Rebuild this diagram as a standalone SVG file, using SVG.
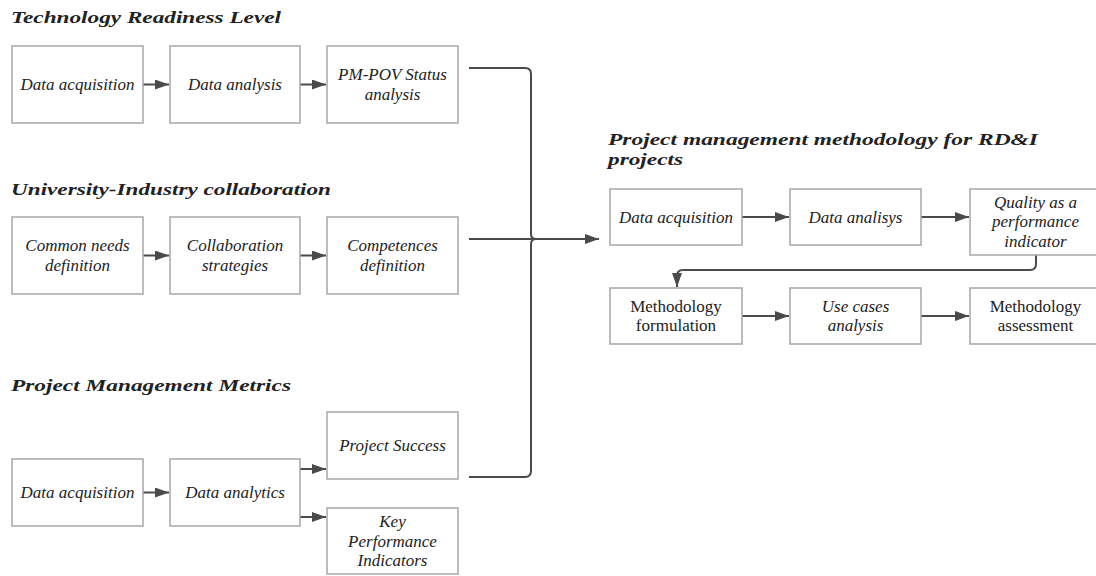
<svg xmlns="http://www.w3.org/2000/svg" width="1096" height="576" viewBox="0 0 1096 576" font-family="Liberation Serif, DejaVu Serif, serif">
<defs>
<style>
.bg{fill:#ffffff}
.box{fill:#ffffff;stroke:#a6a6a6;stroke-width:1.5}
.t{font-size:17px;font-style:italic;fill:#222;text-anchor:middle}
.r{font-style:normal}
.h{font-size:17px;font-style:italic;font-weight:bold;fill:#222}
.c{fill:none;stroke:#4a4a4a;stroke-width:2}
.a{marker-end:url(#ah)}
</style>
<marker id="ah" viewBox="0 0 14 10" refX="14" refY="5" markerWidth="14" markerHeight="10" markerUnits="userSpaceOnUse" orient="auto">
<path d="M0,0 L14,5 L0,10 z" fill="#4a4a4a"/>
</marker>
</defs>
<rect class="bg" x="0" y="0" width="1096" height="576"/>

<g id="titles">
<text class="h" x="11" y="23" textLength="270" lengthAdjust="spacingAndGlyphs">Technology Readiness Level</text>
<text class="h" x="11" y="195" textLength="320" lengthAdjust="spacingAndGlyphs">University-Industry collaboration</text>
<text class="h" x="11" y="391" textLength="280" lengthAdjust="spacingAndGlyphs">Project Management Metrics</text>
<text class="h" x="608" y="145" textLength="430" lengthAdjust="spacingAndGlyphs">Project management methodology for RD&amp;I</text>
<text class="h" x="608" y="165" textLength="75" lengthAdjust="spacingAndGlyphs">projects</text>
</g>

<g id="connectors">
<path class="c a" d="M143 84.5 H169"/>
<path class="c a" d="M300 84.5 H326"/>
<path class="c a" d="M143 255.5 H169"/>
<path class="c a" d="M300 255.5 H326"/>
<path class="c a" d="M143 492.5 H169"/>
<path class="c a" d="M300 469 H326"/>
<path class="c a" d="M300 517 H326"/>
<path class="c" d="M469 68 H525 Q531 68 531 74 V234 Q531 239 536 239"/>
<path class="c" d="M469 477 H525 Q531 477 531 471 V244 Q531 239 536 239"/>
<path class="c a" d="M469 239 H599"/>
<path class="c a" d="M742 217 H789"/>
<path class="c a" d="M921 217 H969"/>
<path class="c a" d="M1036 255 V264 Q1036 270 1030 270 H683 Q677 270 677 276 V287"/>
<path class="c a" d="M742 316 H789"/>
<path class="c a" d="M921 316 H969"/>
</g>

<g id="trl-acq"><rect class="box" x="12" y="46" width="131" height="77"/><text class="t" x="77.5" y="90">Data acquisition</text></g>
<g id="trl-ana"><rect class="box" x="170" y="46" width="130" height="77"/><text class="t" x="235" y="90">Data analysis</text></g>
<g id="trl-pmpov"><rect class="box" x="327" y="46" width="131" height="77"/><text class="t" x="392.5" y="80">PM-POV Status</text><text class="t" x="392.5" y="99.5">analysis</text></g>

<g id="uic-needs"><rect class="box" x="12" y="217" width="131" height="77"/><text class="t" x="77.5" y="251">Common needs</text><text class="t" x="77.5" y="270.5">definition</text></g>
<g id="uic-strat"><rect class="box" x="170" y="217" width="130" height="77"/><text class="t" x="235" y="251">Collaboration</text><text class="t" x="235" y="270.5">strategies</text></g>
<g id="uic-comp"><rect class="box" x="327" y="217" width="131" height="77"/><text class="t" x="392.5" y="251">Competences</text><text class="t" x="392.5" y="270.5">definition</text></g>

<g id="pmm-acq"><rect class="box" x="12" y="459" width="131" height="67"/><text class="t" x="77.5" y="498">Data acquisition</text></g>
<g id="pmm-ana"><rect class="box" x="170" y="459" width="130" height="67"/><text class="t" x="235" y="498">Data analytics</text></g>
<g id="pmm-succ"><rect class="box" x="327" y="412" width="131" height="67"/><text class="t" x="392.5" y="451">Project Success</text></g>
<g id="pmm-kpi"><rect class="box" x="327" y="508" width="131" height="66"/><text class="t" x="392.5" y="527">Key</text><text class="t" x="392.5" y="546.5">Performance</text><text class="t" x="392.5" y="566">Indicators</text></g>

<g id="m-acq"><rect class="box" x="610" y="189" width="132" height="56"/><text class="t" x="676" y="222.5">Data acquisition</text></g>
<g id="m-ana"><rect class="box" x="790" y="189" width="131" height="56"/><text class="t" x="855.5" y="222.5">Data analisys</text></g>
<g id="m-qual"><rect class="box" x="970" y="189" width="131" height="66"/><text class="t" x="1035.5" y="207.5">Quality as a</text><text class="t" x="1035.5" y="227">performance</text><text class="t" x="1035.5" y="246.5">indicator</text></g>
<g id="m-form"><rect class="box" x="610" y="288" width="132" height="56"/><text class="t r" x="676" y="311.5">Methodology</text><text class="t r" x="676" y="331">formulation</text></g>
<g id="m-use"><rect class="box" x="790" y="288" width="131" height="56"/><text class="t" x="855.5" y="311.5">Use cases</text><text class="t" x="855.5" y="331">analysis</text></g>
<g id="m-assess"><rect class="box" x="970" y="288" width="131" height="56"/><text class="t r" x="1035.5" y="311.5">Methodology</text><text class="t r" x="1035.5" y="331">assessment</text></g>
</svg>
